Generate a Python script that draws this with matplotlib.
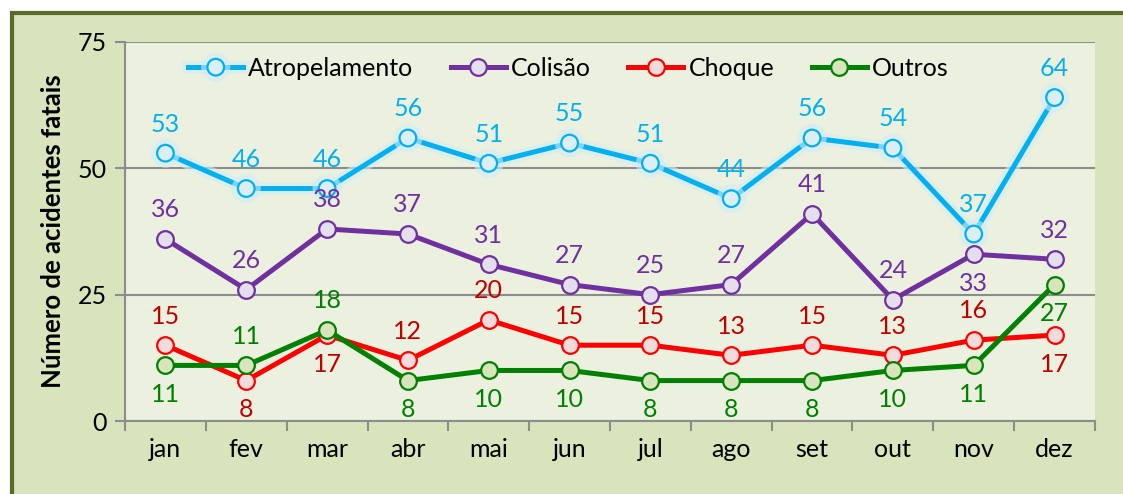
import matplotlib
matplotlib.use("Agg")
import matplotlib.pyplot as plt
import matplotlib.patheffects as pe
from matplotlib.patches import Rectangle

plt.rcParams['font.family'] = ['Lato', 'DejaVu Sans']

meses = ["jan", "fev", "mar", "abr", "mai", "jun", "jul", "ago", "set", "out", "nov", "dez"]
atropelamento = [53, 46, 46, 56, 51, 55, 51, 44, 56, 54, 37, 64]
colisao = [36, 26, 38, 37, 31, 27, 25, 27, 41, 24, 33, 32]
choque = [15, 8, 17, 12, 20, 15, 15, 13, 15, 13, 16, 17]
outros = [11, 11, 18, 8, 10, 10, 8, 8, 8, 10, 11, 27]

# label side: 1 above, -1 below
pos_atrop = [1] * 12
pos_colisao = [1, 1, 1, 1, 1, 1, 1, 1, 1, 1, -1, 1]
pos_choque = [1, -1, -1, 1, 1, 1, 1, 1, 1, 1, 1, -1]
pos_outros = [-1, 1, 1, -1, -1, -1, -1, -1, -1, -1, -1, -1]

series = [
    ("Atropelamento", atropelamento, pos_atrop, "#00b0f0", "#dbeef4", "#00b0f0"),
    ("Colisão", colisao, pos_colisao, "#7030a0", "#e4dfec", "#7030a0"),
    ("Choque", choque, pos_choque, "#ff0000", "#f2dcdb", "#c00000"),
    ("Outros", outros, pos_outros, "#008000", "#d8e4bc", "#008000"),
]

fig = plt.figure(figsize=(11.23, 4.94), dpi=100, facecolor="white")
fig.patches.append(Rectangle((12 / 1123, -0.1), 1.2, (494 - 13) / 494 + 0.1,
                             transform=fig.transFigure, facecolor="#d8e4bc",
                             edgecolor="#5a6b2f", linewidth=3, zorder=-10))
ax = fig.add_axes([125 / 1123, (494 - 421) / 494, 970 / 1123, 379 / 494])
ax.set_facecolor("#ebf1de")

x = list(range(len(meses)))
for nome, vals, pos, cor, face, corlab in series:
    effects = None
    if nome == "Atropelamento":
        effects = [pe.Stroke(linewidth=9, foreground="#d3ecf4", alpha=0.6), pe.Normal()]
    ax.plot(x, vals, color=cor, lw=3.6, marker="o", ms=12, mfc=face, mec=cor,
            mew=1.6, label=nome, path_effects=effects, zorder=3)
    for xi, v, p in zip(x, vals, pos):
        ax.annotate(str(v), (xi, v), xytext=(0, 21 * p), textcoords="offset points",
                    ha="center", va="center", color=corlab, fontsize=18)

ax.set_xlim(-0.5, 11.5)
ax.set_ylim(0, 75)
ax.set_yticks([0, 25, 50, 75])
ax.set_xticks(x)
ax.set_xticklabels(meses)
ax.set_xticks([i - 0.5 for i in range(13)], minor=True)
ax.tick_params(axis="x", which="major", length=0, pad=12, labelsize=18)
ax.tick_params(axis="x", which="minor", length=7, width=1.5, color="#8c8c8c")
ax.tick_params(axis="y", length=7, width=1.5, color="#8c8c8c", labelsize=18, pad=6)
ax.grid(axis="y", color="#8c8c8c", lw=1.5)
ax.set_axisbelow(True)
for s in ["top", "right"]:
    ax.spines[s].set_visible(False)
for s in ["left", "bottom"]:
    ax.spines[s].set_color("#8c8c8c")
    ax.spines[s].set_linewidth(1.5)

ax.set_ylabel("Número de acidentes fatais", fontsize=18.5, fontweight="bold", labelpad=9)

ax.legend(loc="upper left", bbox_to_anchor=(0.042, 1.02), ncol=4, frameon=False,
          fontsize=18, handlelength=2.2, columnspacing=1.5, handletextpad=0.2)

fig.savefig("out.png", dpi=100, facecolor="white")
